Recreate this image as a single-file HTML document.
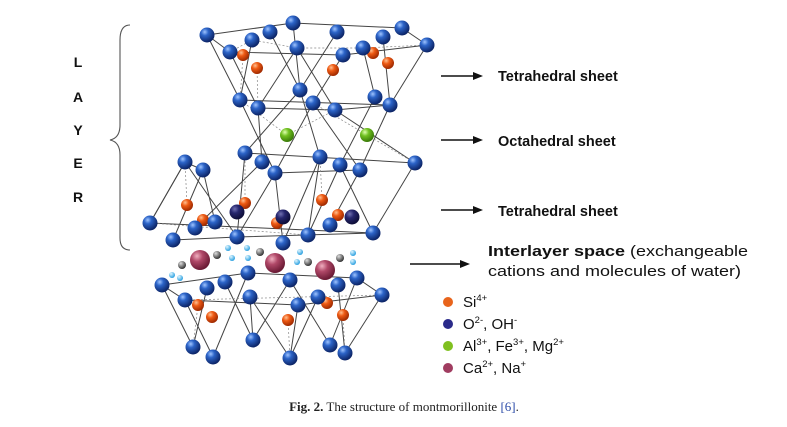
<!DOCTYPE html>
<html><head><meta charset="utf-8"><style>
html,body{margin:0;padding:0;background:#fff;}
svg{display:block;}
</style></head><body>
<svg width="787" height="427" viewBox="0 0 787 427" xmlns="http://www.w3.org/2000/svg">
<defs>
<radialGradient id="b" cx="35%" cy="30%" r="70%"><stop offset="0" stop-color="#9fc4ff"/><stop offset="0.35" stop-color="#2c64c8"/><stop offset="1" stop-color="#0c2466"/></radialGradient>
<radialGradient id="o" cx="35%" cy="30%" r="70%"><stop offset="0" stop-color="#ffc090"/><stop offset="0.4" stop-color="#ee5a14"/><stop offset="1" stop-color="#a02a00"/></radialGradient>
<radialGradient id="n" cx="35%" cy="30%" r="70%"><stop offset="0" stop-color="#7070b0"/><stop offset="0.4" stop-color="#26266e"/><stop offset="1" stop-color="#0e0e38"/></radialGradient>
<radialGradient id="g" cx="35%" cy="30%" r="70%"><stop offset="0" stop-color="#e0ffb0"/><stop offset="0.4" stop-color="#70c020"/><stop offset="1" stop-color="#3a7a08"/></radialGradient>
<radialGradient id="m" cx="35%" cy="30%" r="70%"><stop offset="0" stop-color="#f0b0c0"/><stop offset="0.4" stop-color="#b04868"/><stop offset="1" stop-color="#6a1a34"/></radialGradient>
<radialGradient id="k" cx="35%" cy="30%" r="70%"><stop offset="0" stop-color="#ddd"/><stop offset="1" stop-color="#333"/></radialGradient>
<radialGradient id="c" cx="35%" cy="30%" r="70%"><stop offset="0" stop-color="#e0f6ff"/><stop offset="1" stop-color="#2aa0e0"/></radialGradient>
</defs>
<path d="M130,25 Q120,25 120,40 L120,125 Q120,138 110,140 Q120,142 120,155 L120,238 Q120,250 130,250" fill="none" stroke="#555" stroke-width="1.1"/>
<g font-family="Liberation Sans, sans-serif" font-weight="bold" font-size="14" fill="#111" text-anchor="middle">
<text x="78" y="67">L</text><text x="78" y="102">A</text><text x="78" y="135">Y</text><text x="78" y="168">E</text><text x="78" y="202">R</text>
</g>
<g stroke="#444" stroke-width="1" fill="none">
<path d="M207,35 L293,23 L402,28 L427,45 L343,55 L230,52 Z M207,35 L240,100 M230,52 L258,108 M293,23 L300,90 M297,48 L258,108 M297,48 L335,110 M343,55 L313,103 M363,48 L375,97 M427,45 L390,105 M383,37 L390,105 M252,40 L240,100 M337,32 L300,90 M270,32 L300,90"/>
<path d="M240,100 L390,105 M258,108 L335,110 L390,105 M240,100 L275,173 M258,108 L262,162 M300,90 L245,153 M313,103 L360,170 M335,110 L415,163 M375,97 L340,165 M390,105 L360,170 M313,103 L275,173 M300,90 L320,157"/>
<path d="M245,153 L415,163 M275,173 L360,170 M185,162 L150,223 M185,162 L237,237 M203,170 L173,240 M203,170 L215,222 M245,153 L237,237 M262,162 L195,228 M275,173 L283,243 M320,157 L283,243 M320,157 L308,235 M340,165 L373,233 M360,170 L330,225 M415,163 L373,233 M275,173 L237,237 M340,165 L308,235"/>
<path d="M150,223 L373,233 M173,240 L237,237 L373,233 M150,223 L185,162 L203,170"/>
<path d="M162,285 L248,273 L357,278 L382,295 L298,305 L185,300 Z M162,285 L193,347 M185,300 L213,357 M207,288 L193,347 M225,282 L253,340 M248,273 L213,357 M250,297 L253,340 M290,280 L253,340 M290,280 L330,345 M298,305 L290,358 M318,297 L290,358 M338,285 L345,353 M357,278 L330,345 M382,295 L345,353 M250,297 L290,358"/>
</g>
<g stroke="#888" stroke-width="0.7" stroke-dasharray="2,2" fill="none">
<path d="M230,52 L252,40 L297,48 L363,48 L427,45 M243,55 L240,100 M257,68 L258,108 M287,135 L240,100 M287,135 L335,110 M367,135 L313,103 M367,135 L415,163 M150,223 L308,235 M187,205 L185,162 M245,203 L245,153 M322,200 L320,157 M185,300 L382,295 M198,305 L193,347 M288,320 L290,358 M343,315 L345,353"/>
</g>
<g>
<g fill="url(#o)">
<circle cx="243" cy="55" r="6"/><circle cx="257" cy="68" r="6"/><circle cx="333" cy="70" r="6"/><circle cx="373" cy="53" r="6"/><circle cx="388" cy="63" r="6"/>
<circle cx="187" cy="205" r="6"/><circle cx="245" cy="203" r="6"/><circle cx="322" cy="200" r="6"/><circle cx="203" cy="220" r="6"/><circle cx="277" cy="223" r="6"/><circle cx="338" cy="215" r="6"/>
<circle cx="198" cy="305" r="6"/><circle cx="212" cy="317" r="6"/><circle cx="288" cy="320" r="6"/><circle cx="327" cy="303" r="6"/><circle cx="343" cy="315" r="6"/>
</g>
<g fill="url(#n)"><circle cx="237" cy="212" r="7.5"/><circle cx="283" cy="217" r="7.5"/><circle cx="352" cy="217" r="7.5"/></g>
<g fill="url(#g)"><circle cx="287" cy="135" r="7"/><circle cx="367" cy="135" r="7"/></g>
<g fill="url(#b)">
<circle cx="207" cy="35" r="7.5"/><circle cx="252" cy="40" r="7.5"/><circle cx="270" cy="32" r="7.5"/><circle cx="293" cy="23" r="7.5"/><circle cx="337" cy="32" r="7.5"/><circle cx="383" cy="37" r="7.5"/><circle cx="402" cy="28" r="7.5"/><circle cx="427" cy="45" r="7.5"/><circle cx="230" cy="52" r="7.5"/><circle cx="297" cy="48" r="7.5"/><circle cx="343" cy="55" r="7.5"/><circle cx="363" cy="48" r="7.5"/>
<circle cx="240" cy="100" r="7.5"/><circle cx="258" cy="108" r="7.5"/><circle cx="300" cy="90" r="7.5"/><circle cx="313" cy="103" r="7.5"/><circle cx="335" cy="110" r="7.5"/><circle cx="375" cy="97" r="7.5"/><circle cx="390" cy="105" r="7.5"/>
<circle cx="245" cy="153" r="7.5"/><circle cx="262" cy="162" r="7.5"/><circle cx="275" cy="173" r="7.5"/><circle cx="320" cy="157" r="7.5"/><circle cx="340" cy="165" r="7.5"/><circle cx="360" cy="170" r="7.5"/><circle cx="415" cy="163" r="7.5"/><circle cx="185" cy="162" r="7.5"/><circle cx="203" cy="170" r="7.5"/>
<circle cx="150" cy="223" r="7.5"/><circle cx="173" cy="240" r="7.5"/><circle cx="195" cy="228" r="7.5"/><circle cx="215" cy="222" r="7.5"/><circle cx="237" cy="237" r="7.5"/><circle cx="283" cy="243" r="7.5"/><circle cx="308" cy="235" r="7.5"/><circle cx="330" cy="225" r="7.5"/><circle cx="373" cy="233" r="7.5"/>
<circle cx="162" cy="285" r="7.5"/><circle cx="207" cy="288" r="7.5"/><circle cx="225" cy="282" r="7.5"/><circle cx="248" cy="273" r="7.5"/><circle cx="290" cy="280" r="7.5"/><circle cx="338" cy="285" r="7.5"/><circle cx="357" cy="278" r="7.5"/><circle cx="382" cy="295" r="7.5"/><circle cx="185" cy="300" r="7.5"/><circle cx="250" cy="297" r="7.5"/><circle cx="298" cy="305" r="7.5"/><circle cx="318" cy="297" r="7.5"/>
<circle cx="193" cy="347" r="7.5"/><circle cx="213" cy="357" r="7.5"/><circle cx="253" cy="340" r="7.5"/><circle cx="290" cy="358" r="7.5"/><circle cx="330" cy="345" r="7.5"/><circle cx="345" cy="353" r="7.5"/>
</g>
<g fill="url(#m)"><circle cx="200" cy="260" r="10"/><circle cx="275" cy="263" r="10"/><circle cx="325" cy="270" r="10"/></g>
<g fill="url(#k)"><circle cx="217" cy="255" r="4"/><circle cx="260" cy="252" r="4"/><circle cx="308" cy="262" r="4"/><circle cx="340" cy="258" r="4"/><circle cx="182" cy="265" r="4"/></g>
<g fill="url(#c)"><circle cx="228" cy="248" r="3"/><circle cx="232" cy="258" r="3"/><circle cx="247" cy="248" r="3"/><circle cx="248" cy="258" r="3"/><circle cx="300" cy="252" r="3"/><circle cx="297" cy="262" r="3"/><circle cx="353" cy="253" r="3"/><circle cx="353" cy="262" r="3"/><circle cx="172" cy="275" r="3"/><circle cx="180" cy="278" r="3"/></g>
</g>
<g stroke="#111" stroke-width="1.5">
<line x1="441" y1="76" x2="475" y2="76"/><line x1="441" y1="140" x2="475" y2="140"/><line x1="441" y1="210" x2="475" y2="210"/><line x1="410" y1="264" x2="462" y2="264"/>
</g>
<g fill="#111">
<path d="M483,76 L473,72 L473,80 Z"/><path d="M483,140 L473,136 L473,144 Z"/><path d="M483,210 L473,206 L473,214 Z"/><path d="M470,264 L460,260 L460,268 Z"/>
</g>
<g font-family="Liberation Sans, sans-serif" font-size="14.5" fill="#111">
<text x="498" y="81" font-weight="bold">Tetrahedral sheet</text>
<text x="498" y="146" font-weight="bold">Octahedral sheet</text>
<text x="498" y="216" font-weight="bold">Tetrahedral sheet</text>
<text x="488" y="256" textLength="260" lengthAdjust="spacingAndGlyphs"><tspan font-weight="bold">Interlayer space</tspan> (exchangeable</text>
<text x="488" y="276" textLength="253" lengthAdjust="spacingAndGlyphs">cations and molecules of water)</text>
</g>
<g>
<circle cx="448" cy="302" r="5" fill="#e8641c"/><circle cx="448" cy="324" r="5" fill="#2a2a8a"/><circle cx="448" cy="346" r="5" fill="#80c020"/><circle cx="448" cy="368" r="5" fill="#a03c60"/>
</g>
<g font-family="Liberation Sans, sans-serif" font-size="15" fill="#111">
<text x="463" y="307">Si<tspan font-size="9.5" dy="-6">4+</tspan></text>
<text x="463" y="329">O<tspan font-size="9.5" dy="-6">2-</tspan><tspan dy="6">, OH</tspan><tspan font-size="9.5" dy="-6">-</tspan></text>
<text x="463" y="351">Al<tspan font-size="9.5" dy="-6">3+</tspan><tspan dy="6">, Fe</tspan><tspan font-size="9.5" dy="-6">3+</tspan><tspan dy="6">, Mg</tspan><tspan font-size="9.5" dy="-6">2+</tspan></text>
<text x="463" y="373">Ca<tspan font-size="9.5" dy="-6">2+</tspan><tspan dy="6">, Na</tspan><tspan font-size="9.5" dy="-6">+</tspan></text>
</g>
<text x="404" y="411" text-anchor="middle" font-family="Liberation Serif, serif" font-size="13" fill="#222"><tspan font-weight="bold">Fig. 2.</tspan>  The structure of montmorillonite <tspan fill="#2a4aa8">[6]</tspan>.</text>
</svg>
</body></html>
